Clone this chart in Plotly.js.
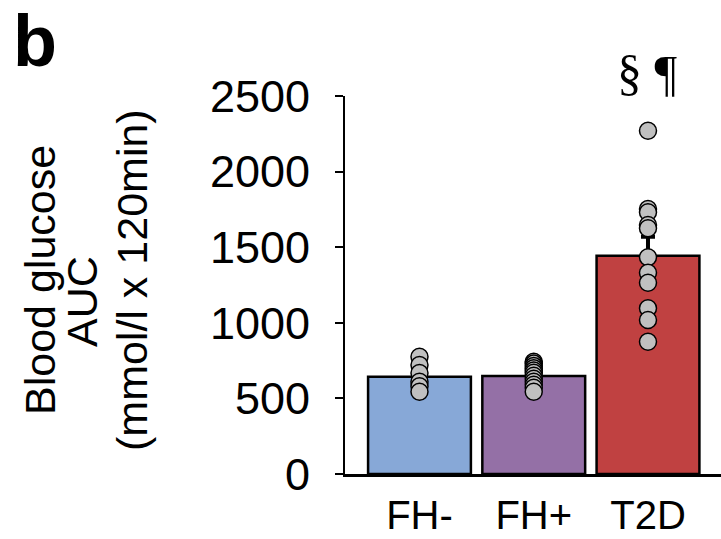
<!DOCTYPE html>
<html>
<head>
<meta charset="utf-8">
<script src="https://cdn.plot.ly/plotly-3.0.1.min.js"></script>
<style>html,body{margin:0;padding:0;background:#fff;}#chart{width:721px;height:539px;}</style>
</head>
<body>
<div id="chart"></div>
<script>
const categories = ["FH-", "FH+", "T2D"];
const barMeans = [643, 648, 1444];
const barSem = [30, 15, 125];
const dotsFHminus = [776, 721, 668, 610, 580, 544];
const dotsFHplus = [742, 730, 715, 700, 685, 670, 650, 630, 610, 590, 570, 544];
const dotsT2D = [2270, 1753, 1731, 1647, 1625, 1433, 1331, 1265, 1096, 1019, 875];
const yTicks = [0, 500, 1000, 1500, 2000, 2500];
const barColors = ["#87A8D7", "#9470A6", "#C04141"];
const panelLabel = "b";
const sigLabel = "§ ¶";
const yTitleLines = ["Blood glucose", "AUC", "(mmol/l x 120min)"];

const W = 721, H = 539;
const M = {l: 345, r: 0, t: 96, b: 65};
const PW = W - M.l - M.r, PH = H - M.t - M.b;
const px = x => (x - M.l) / PW;
const py = y => (H - M.b - y) / PH;

const font = "Liberation Sans, Arial, sans-serif";

const traces = [
  {
    type: "bar", x: categories, y: barMeans,
    marker: {color: barColors, line: {color: "#000", width: 2.5}},
    error_y: {type: "data", symmetric: false, array: barSem, arrayminus: [0,0,0],
              color: "#000", thickness: 4, width: 7},
    hoverinfo: "skip", showlegend: false
  }
];
const dotSets = [dotsFHminus, dotsFHplus, dotsT2D];
dotSets.forEach((vals, i) => {
  traces.push({
    type: "scatter", mode: "markers",
    x: vals.map(() => categories[i]), y: vals,
    marker: {size: 17, color: "#C0C0C0", line: {color: "#000", width: 1.5}},
    showlegend: false, hoverinfo: "skip"
  });
});

const annotations = [
  {text: panelLabel, xref: "paper", yref: "paper", x: px(35), y: py(0),
   xanchor: "center", yanchor: "top", showarrow: false, borderpad: 0,
   font: {family: font, size: 72, color: "#000", weight: "bold"}},
  {text: sigLabel, xref: "x", yref: "paper", x: "T2D", y: py(73),
   xanchor: "center", yanchor: "middle", showarrow: false,
   font: {family: "Liberation Serif, Times New Roman, serif", size: 50, color: "#000"}}
];
const titleX = [40, 82, 132];
const titleY = [280, 302, 280];
yTitleLines.forEach((t, i) => {
  annotations.push({text: t, xref: "paper", yref: "paper", x: px(titleX[i]), y: py(titleY[i]),
    xanchor: "center", yanchor: "middle", showarrow: false, textangle: -90,
    font: {family: font, size: 43, color: "#000"}});
});

const layout = {
  width: W, height: H,
  margin: M,
  paper_bgcolor: "#fff", plot_bgcolor: "#fff",
  bargap: 0.1,
  showlegend: false,
  font: {family: font, color: "#000"},
  xaxis: {
    type: "category", range: [-0.652, 2.639],
    showline: true, linecolor: "#000", linewidth: 2.5,
    ticks: "", showgrid: false, zeroline: false,
    tickfont: {family: font, size: 40, color: "#000"},
    ticklabelstandoff: 4
  },
  yaxis: {
    range: [0, 2500], tickvals: yTicks,
    showline: true, linecolor: "#000", linewidth: 2,
    ticks: "outside", ticklen: 8, tickwidth: 2, tickcolor: "#000",
    showgrid: false, zeroline: false,
    tickfont: {family: font, size: 45, color: "#000"},
    ticklabelstandoff: 16
  },
  annotations: annotations
};

Plotly.newPlot("chart", traces, layout, {staticPlot: true, displayModeBar: false});
</script>
</body>
</html>
